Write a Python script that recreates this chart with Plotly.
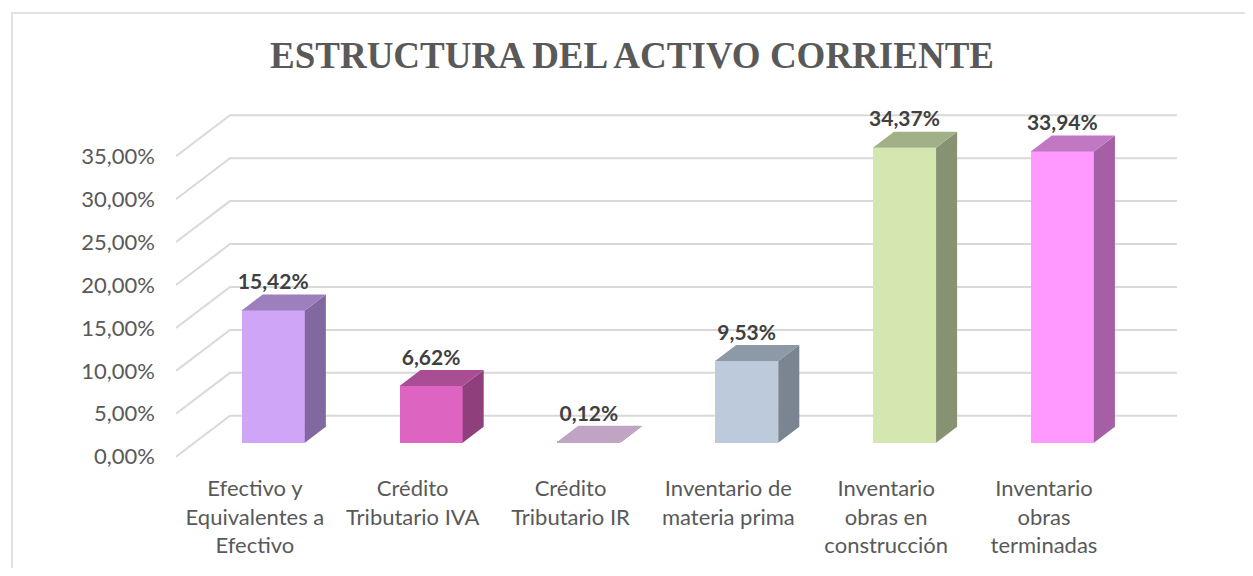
import plotly.graph_objects as go

# ---------------- data ----------------
categories = [
    "Efectivo y<br>Equivalentes a<br>Efectivo",
    "Crédito<br>Tributario IVA",
    "Crédito<br>Tributario IR",
    "Inventario de<br>materia prima",
    "Inventario<br>obras en<br>construcción",
    "Inventario<br>obras<br>terminadas",
]
values = [15.42, 6.62, 0.12, 9.53, 34.37, 33.94]
y_ticks = [0, 5, 10, 15, 20, 25, 30, 35]

front_colors = ["#CFA6F7", "#DD65C1", "#C6A4C8", "#BDCADB", "#D4E7B0", "#FF99FF"]
side_colors = ["#8268A0", "#8E3F7C", "#9A829D", "#7B8592", "#879272", "#A45FA5"]
top_colors = ["#9E7FBE", "#A94E95", "#BFA4C4", "#8E99A8", "#A2B088", "#C177C2"]

# ---------------- geometry (oblique 3D projection) ----------------
X0, XMAX = -0.5, 5.843
YMIN, YMAX = -0.5, 40.5
DEPTH_X, DEPTH_Y = 0.342, 4.77   # full depth of the chart box in data units
D0, D1 = 0.34, 0.73              # bar front / back depth fractions
BAR_W = 0.40


def fmt(v):
    return f"{v:.2f}%".replace(".", ",")


fig = go.Figure()

ddx = (D1 - D0) * DEPTH_X
ddy = (D1 - D0) * DEPTH_Y
yb = D0 * DEPTH_Y
xc = [i + D0 * DEPTH_X for i in range(len(values))]

for i, v in enumerate(values):
    xl = xc[i] - BAR_W / 2
    xr = xc[i] + BAR_W / 2
    yt = yb + v
    # side face
    fig.add_trace(go.Scatter(
        x=[xr, xr + ddx, xr + ddx, xr, xr],
        y=[yb, yb + ddy, yt + ddy, yt, yb],
        mode="lines", fill="toself", fillcolor=side_colors[i],
        line=dict(width=0, color=side_colors[i]),
        hoverinfo="skip", showlegend=False))
    # top face
    fig.add_trace(go.Scatter(
        x=[xl, xr, xr + ddx, xl + ddx, xl],
        y=[yt, yt, yt + ddy, yt + ddy, yt],
        mode="lines", fill="toself", fillcolor=top_colors[i],
        line=dict(width=0, color=top_colors[i]),
        hoverinfo="skip", showlegend=False))

# data labels
fig.add_trace(go.Scatter(
    x=xc, y=[yb + v + ddy for v in values],
    mode="text", text=[fmt(v) for v in values],
    textposition="top center",
    textfont=dict(family="Lato", size=21, color="#404040", weight="bold"),
    cliponaxis=False, hoverinfo="skip", showlegend=False))

# front faces
fig.add_trace(go.Bar(
    x=xc, y=values, base=yb, width=BAR_W,
    marker=dict(color=front_colors, line=dict(width=0)),
    hoverinfo="skip", showlegend=False))

# gridlines (below traces): diagonal front->back wall + back wall horizontal
shapes = []
for v in y_ticks:
    path = (f"M {X0},{v} L {X0 + DEPTH_X},{v + DEPTH_Y} "
            f"L {XMAX},{v + DEPTH_Y}")
    shapes.append(dict(type="path", xref="x", yref="y", path=path,
                       line=dict(color="#D9D9D9", width=2), layer="below"))
shapes.append(dict(type="rect", xref="paper", yref="paper",
                   x0=-0.1638, y0=-0.6, x1=1.2, y1=1.2727,
                   line=dict(color="#D9D9D9", width=1.5),
                   fillcolor="rgba(0,0,0,0)", layer="below"))

fig.update_layout(
    width=1237, height=560, autosize=False,
    margin=dict(l=168, r=68, t=101, b=107),
    paper_bgcolor="white", plot_bgcolor="white",
    title=dict(text="<b>ESTRUCTURA DEL ACTIVO CORRIENTE</b>",
               font=dict(family="Liberation Serif", size=37, color="#595959"),
               xref="container", x=624 / 1237, xanchor="center",
               yref="container", y=1 - 47 / 560, yanchor="middle"),
    xaxis=dict(range=[X0, XMAX], tickmode="array",
               tickvals=[i for i in range(len(categories))],
               ticktext=categories, showgrid=False, zeroline=False,
               showline=False, ticks="", ticklabelstandoff=12,
               automargin=False,
               tickfont=dict(family="Lato", size=22, color="#595959")),
    yaxis=dict(range=[YMIN, YMAX], tickmode="array", tickvals=y_ticks,
               ticktext=[fmt(v) for v in y_ticks], showgrid=False,
               zeroline=False, showline=False, ticks="",
               ticklabelstandoff=20, automargin=False,
               tickfont=dict(family="Lato", size=22, color="#595959")),
    shapes=shapes,
    bargap=0,
)

fig.write_html("out.html")
